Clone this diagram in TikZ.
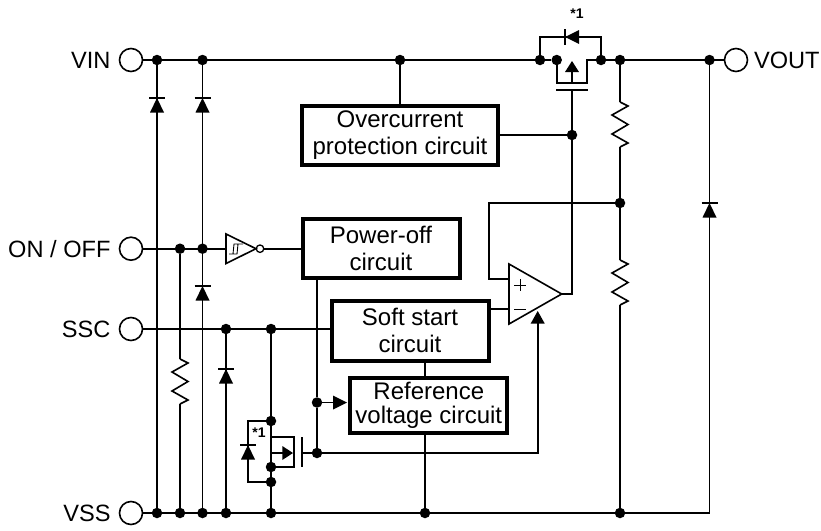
\documentclass[tikz,border=0pt]{standalone}
\usepackage{fontspec}
\setmainfont{Liberation Sans}
\usetikzlibrary{positioning}
\tikzset{node distance=8pt, % gap between a terminal and its name
wire/.style={line width=1.6pt},
jct/.style={circle, fill=black, inner sep=0pt, minimum size=10.5pt},
term/.style={circle, draw, line width=1.6pt, fill=white, inner sep=0pt, minimum size=23pt},
pinname/.style={font=\fontsize{23.6}{28}\selectfont, inner sep=0pt},
ckt/.style={draw, line width=4pt, align=center, inner sep=0pt, fill=white,
  font=\fontsize{24}{27}\selectfont},
note/.style={font=\bfseries\fontsize{14}{16}\selectfont, inner sep=0pt},
diodeup/.pic={ % anode below, bar at the origin
  \fill (-7,14.5) -- (7,14.5) -- (0,0) -- cycle;
  \draw[wire] (-8,0) -- (8,0);},
resistor/.pic={ % 45 tall, origin at the top
  \draw[wire, line join=miter] (0,0) -- (8,4) -- (-8,13) -- (8,22.5) -- (-8,32) -- (8,41) -- (0,45);}}

\begin{document}
\begin{tikzpicture}[x=1pt, y=-1pt]
    \useasboundingbox (0,0) rectangle (821,530);

    % terminals
    \node[term] (vin) at (131,60) {};
    \node[term] (onoff) at (131,248.7) {};
    \node[term] (ssc) at (131,329) {};
    \node[term] (vss) at (131,513) {};
    \node[term] (vout) at (736,60) {};
    \node[pinname, left=of vin] (vinname) {VIN};
    \node[pinname, left=of onoff] (onoffname) {ON / OFF};
    \node[pinname, left=of ssc] (sscname) {SSC};
    \node[pinname, left=of vss] (vssname) {VSS};
    \node[pinname, right=5.5pt of vout] (voutname) {VOUT};

    % circuit blocks
    \node[ckt, minimum width=196pt, minimum height=58.7pt] (ocp) at (400,135.3) {Overcurrent\\protection circuit};
    \node[ckt, minimum width=157pt, minimum height=59pt] (poff) at (381,248.7) {Power-off\\circuit};
    \node[ckt, minimum width=157pt, minimum height=60pt] (soft) at (410,330.5) {Soft start\\circuit};
    \node[ckt, minimum width=157pt, minimum height=55pt, font=\fontsize{24}{24}\selectfont] (vref) at (428.8,405.5) {Reference\\voltage circuit};

    % junctions on the VIN line
    \node[jct] (vin1) at (157,60) {};
    \node[jct] (vin2) at (202.5,60) {};
    \node[jct] (vin3) at (400,60) {};
    \node[jct] (dr1) at (540,60) {};
    \node[jct] (dr2) at (556.7,60) {};
    \node[jct] (dr3) at (601,60) {};
    \node[jct] (div1) at (620,60) {};
    \node[jct] (vout1) at (709.5,60) {};
    % junctions on the ON / OFF and SSC lines
    \node[jct] (on1) at (180,248.7) {};
    \node[jct] (on2) at (202.5,248.7) {};
    \node[jct] (ssc1) at (226,329) {};
    \node[jct] (ssc2) at (271,329) {};
    % junctions on the VSS line
    \node[jct] (vss1) at (157,513) {};
    \node[jct] (vss2) at (180,513) {};
    \node[jct] (vss3) at (202.5,513) {};
    \node[jct] (vss4) at (226,513) {};
    \node[jct] (vss5) at (271,513) {};
    \node[jct] (vss6) at (425,513) {};
    \node[jct] (vss7) at (620,513) {};
    \coordinate (vss8) at (709.5,513);
    % inner junctions
    \node[jct] (gate1) at (572,135) {};
    \node[jct] (div2) at (620,203) {};
    \node[jct] (ref1) at (317,402.5) {};
    \node[jct] (ref2) at (317,453) {};
    \node[jct] (mos1) at (271,421) {};
    \node[jct] (mos2) at (271,467) {};
    \node[jct] (mos3) at (271,482) {};

    % rails
    \draw[wire] (vin) -- (dr2);
    \draw[wire] (dr3) -- (vout);
    \draw[wire] (onoff) -- (226,248.7) coordinate (invin);
    \draw[wire] (ssc) -- (soft.west |- ssc);
    \draw[wire] (vss) -- (vss8) -- (vout1);
    \draw[wire] (vin1) -- (vss1);
    \draw[wire] (vin2) -- (vss3);
    \draw[wire] (on1) -- (180,359) coordinate (r3top);
    \draw[wire] (180,404) coordinate (r3bot) -- (vss2);
    \draw[wire] (ssc1) -- (vss4);
    \draw[wire] (ssc2) -- (mos1) -- (mos3) -- (vss5);
    \draw[wire] (vin3) -- (ocp);
    \draw[wire] (vss6 |- soft.south) -- (vss6 |- vref.north);
    \draw[wire] (vss6) -- (vss6 |- vref.south);

    % divider
    \draw[wire] (div1) -- (620,102) coordinate (r1top);
    \draw[wire] (620,147) coordinate (r1bot) -- (div2) -- (620,260) coordinate (r2top);
    \draw[wire] (620,305) coordinate (r2bot) -- (vss7);
    \pic at (r1top) {resistor};
    \pic at (r2top) {resistor};
    \pic at (r3top) {resistor};

    % clamp diodes
    \pic at (157,98) {diodeup};
    \pic at (202.5,98) {diodeup};
    \pic at (202.5,286) {diodeup};
    \pic at (226,369) {diodeup};
    \pic at (709.5,203) {diodeup};
    \pic at (248,445) {diodeup};

    % output transistor
    \coordinate (dnl) at (556.7,83);
    \coordinate (dnr) at (587,83);
    \coordinate (dtop) at (587,60);
    \draw[wire] (dr2) -- (dnl) -- (dnr) -- (dtop) -- (dr3);
    \coordinate (chan) at (572,83);
    \coordinate (gatetop) at (572,90);
    \draw[wire] (chan) -- (572,70);
    \fill (565,72) -- (579,72) -- (572,61) -- cycle;
    \draw[wire] (556,90) -- (588,90);
    \draw[wire] (dr1) -- (540,37) -- (601,37) -- (dr3);
    \fill (579,30) -- (579,44) -- (565,37) -- cycle;
    \draw[wire] (565,29) -- (565,45);
    \node[note] (star1) at (577,13.5) {*1};

    % error amplifier
    \draw[wire, line join=miter, fill=white] (509,264) coordinate (ampa) -- (561.7,294) coordinate (ampout) -- (509,324) -- cycle;
    \draw[line width=.9pt] (514,285) -- (526,285) (520,279) -- (520,291) (514,309) -- (526,309);
    \draw[wire] (gatetop) -- (572,294) -- (ampout);
    \draw[wire] (ocp.east |- gate1) -- (gate1);
    \draw[wire] (div2) -- (489,203) -- (489,279) -- (509,279);
    \draw[wire] (soft.east |- 0,309) -- (509,309);
    \draw[wire] (ref2) -- (537.7,453) -- (537.7,323);
    \fill (530.7,323.5) -- (544.7,323.5) -- (537.7,311) -- cycle;

    % inverter
    \draw[wire, line join=miter] (invin) ++(0,-14.7) -- (256,248.7) -- (226,263.5) -- cycle;
    \draw[line width=.9pt] (229,254) -- (237,254) -- (238,244) -- (243,244) (233,254) -- (234,244) -- (238,244);
    \node[circle, draw, line width=1.3pt, inner sep=0pt, minimum size=7.5pt] (bubble) at (260,248.7) {};
    \draw[wire] (bubble) -- (poff);

    % power-off output and reference feed
    \draw[wire] (317,280) -- (ref1) -- (ref2);
    \draw[wire] (ref1) -- (334,402.5);
    \fill (333,395.5) -- (333,409.5) -- (347,402.5) -- cycle;

    % discharge transistor
    \draw[wire] (mos1 |- 0,437) -- (294,437) -- (294,467) -- (mos2);
    \draw[wire] (mos2) -- (271,453) -- (283,453);
    \fill (282.3,446) -- (282.3,460) -- (293,453) -- cycle;
    \draw[wire] (301.7,437) -- (301.7,467);
    \draw[wire] (301.7,453) -- (ref2);
    \draw[wire] (mos1) -- (248,421) -- (248,482) -- (mos3);
    \node[note] (star2) at (259,432.5) {*1};

\end{tikzpicture}
\end{document}
